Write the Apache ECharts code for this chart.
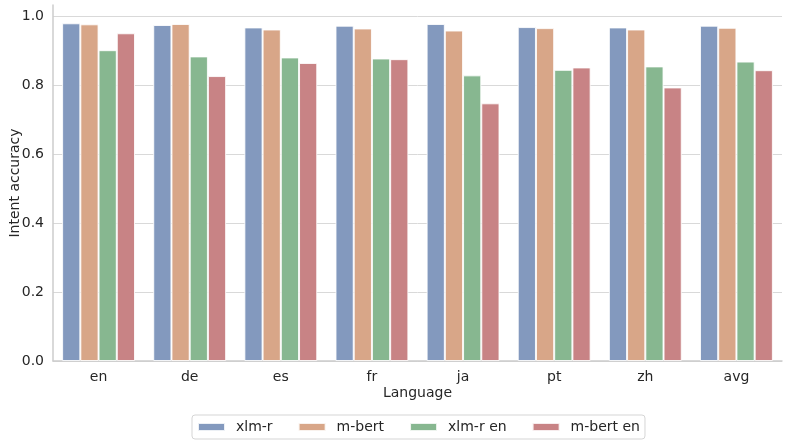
<!DOCTYPE html>
<html><head><meta charset="utf-8">
<script src="https://cdn.jsdelivr.net/npm/echarts@6/dist/echarts.min.js"></script>
<style>html,body{margin:0;padding:0;background:#fff}#c{width:789px;height:445px}</style>
</head><body><div id="c"></div>
<script>
const categories = ['en','de','es','fr','ja','pt','zh','avg'];
const seriesNames = ['xlm-r','m-bert','xlm-r en','m-bert en'];
const xlmR     = [0.979,0.974,0.967,0.972,0.977,0.968,0.967,0.972];
const mBert    = [0.976,0.977,0.961,0.964,0.958,0.965,0.961,0.966];
const xlmREn   = [0.901,0.883,0.880,0.877,0.828,0.844,0.854,0.868];
const mBertEn  = [0.950,0.826,0.864,0.875,0.747,0.851,0.793,0.843];
const colors = ['#8399BE','#D8A688','#87B790','#C88385'];
const values = [xlmR, mBert, xlmREn, mBertEn];
const font = 'DejaVu Sans';
const txt = '#262626';
const chart = echarts.init(document.getElementById('c'));
chart.setOption({
  animation:false,
  textStyle:{fontFamily:font},
  grid:{left:53,right:7,top:5,bottom:84,containLabel:false,outerBoundsMode:'none'},
  legend:{
    top:415,left:192,
    icon:'rect',itemWidth:27,itemHeight:8,itemGap:25,
    borderColor:'#d5d5d5',borderWidth:1,borderRadius:3,padding:[5,5,5,5],
    textStyle:{fontFamily:font,fontSize:14,color:txt,padding:[0,0,0,6]},
    data:seriesNames
  },
  xAxis:{
    type:'category',data:categories,
    name:'Language',nameLocation:'middle',nameGap:25,nameMoveOverlap:false,
    nameTextStyle:{fontFamily:font,fontSize:14,color:txt},
    axisLine:{lineStyle:{color:'#cccccc',width:1.5}},
    axisTick:{show:false},
    axisLabel:{fontFamily:font,fontSize:14,color:txt,margin:9}
  },
  yAxis:{
    type:'value',min:0,max:1.032,interval:0.2,
    name:'Intent accuracy',nameLocation:'middle',nameGap:31,nameMoveOverlap:false,
    nameTextStyle:{fontFamily:font,fontSize:14,color:txt},
    axisLine:{show:true,lineStyle:{color:'#cccccc',width:1.5}},
    axisTick:{show:false},
    axisLabel:{fontFamily:font,fontSize:14,color:txt,margin:9,showMaxLabel:false,
      formatter:v=>v.toFixed(1)},
    splitLine:{lineStyle:{color:['#d9d9d9','#d9d9d9','#d9d9d9','#d9d9d9','#d9d9d9','#d9d9d9','rgba(0,0,0,0)'],width:1}}
  },
  series: seriesNames.map((n,i)=>({
    name:n,type:'bar',data:values[i],
    barGap:'0%',barCategoryGap:'20%',
    itemStyle:{color:colors[i],borderColor:'rgba(255,255,255,0.85)',borderWidth:1}
  }))
});
</script></body></html>
